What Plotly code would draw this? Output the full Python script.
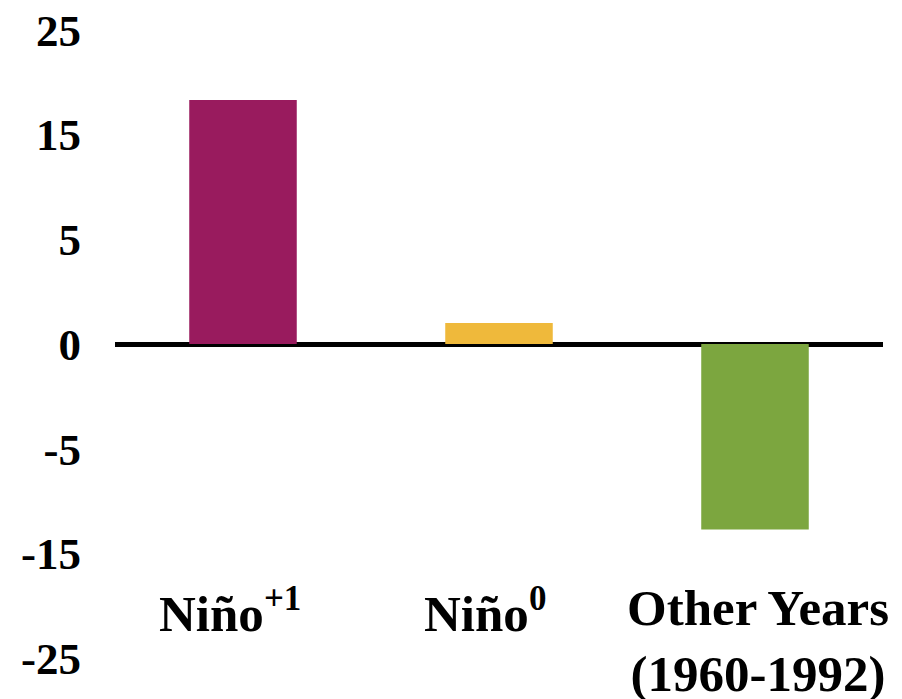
import numpy as np
import plotly.graph_objects as go

# Categories and their values
categories = ["Niño+1", "Niño0", "Other Years (1960-1992)"]
category_labels = [
    "Niño<sup><span style='font-size:35px'>+1</span></sup>",
    "Niño<sup><span style='font-size:35px'>0</span></sup>",
    "Other Years<br>(1960-1992)",
]
values = [18.3, 1.0, -12.7]
colors = ["#991B5E", "#EFB93B", "#7CA63F"]

# The value axis is drawn with evenly spaced, non-uniform tick values
tick_values = [-25, -15, -5, 0, 5, 15, 25]
tick_labels = ["-25", "-15", "-5", "0", "5", "15", "25"]
tick_positions = list(range(-3, 4))


def to_axis(v):
    """Piecewise-linear mapping from data units onto the evenly spaced tick grid."""
    return np.interp(v, tick_values, tick_positions)


fig = go.Figure()
fig.add_trace(
    go.Bar(
        x=categories,
        y=to_axis(values),
        marker=dict(color=colors, line=dict(width=0)),
        width=0.42,
        showlegend=False,
    )
)

label_font = dict(family="Liberation Serif", size=51, color="black")
xshifts = [-13, -14, 3]
yshifts = [8, 8, 7]
for cat, lab, dx, dy in zip(categories, category_labels, xshifts, yshifts):
    fig.add_annotation(
        x=cat,
        y=-2.3,
        xref="x",
        yref="y",
        text=f"<b>{lab}</b>",
        showarrow=False,
        yanchor="top",
        xanchor="center",
        xshift=dx,
        yshift=dy,
        font=label_font,
    )

fig.update_layout(
    width=902,
    height=699,
    margin=dict(l=115, r=19, t=0, b=0),
    paper_bgcolor="white",
    plot_bgcolor="white",
    bargap=0.58,
    xaxis=dict(
        showticklabels=False,
        showgrid=False,
        zeroline=False,
        showline=False,
        range=[-0.5, 2.5],
        fixedrange=True,
    ),
    yaxis=dict(
        range=[-3.39, 3.286],
        tickvals=tick_positions,
        ticktext=[f"<b>{t}</b>" for t in tick_labels],
        tickfont=dict(family="Liberation Serif", size=45, color="black"),
        ticks="",
        ticklabelstandoff=33,
        showgrid=False,
        showline=False,
        zeroline=True,
        zerolinecolor="black",
        zerolinewidth=5,
        fixedrange=True,
    ),
)

fig.write_html("out.html")
